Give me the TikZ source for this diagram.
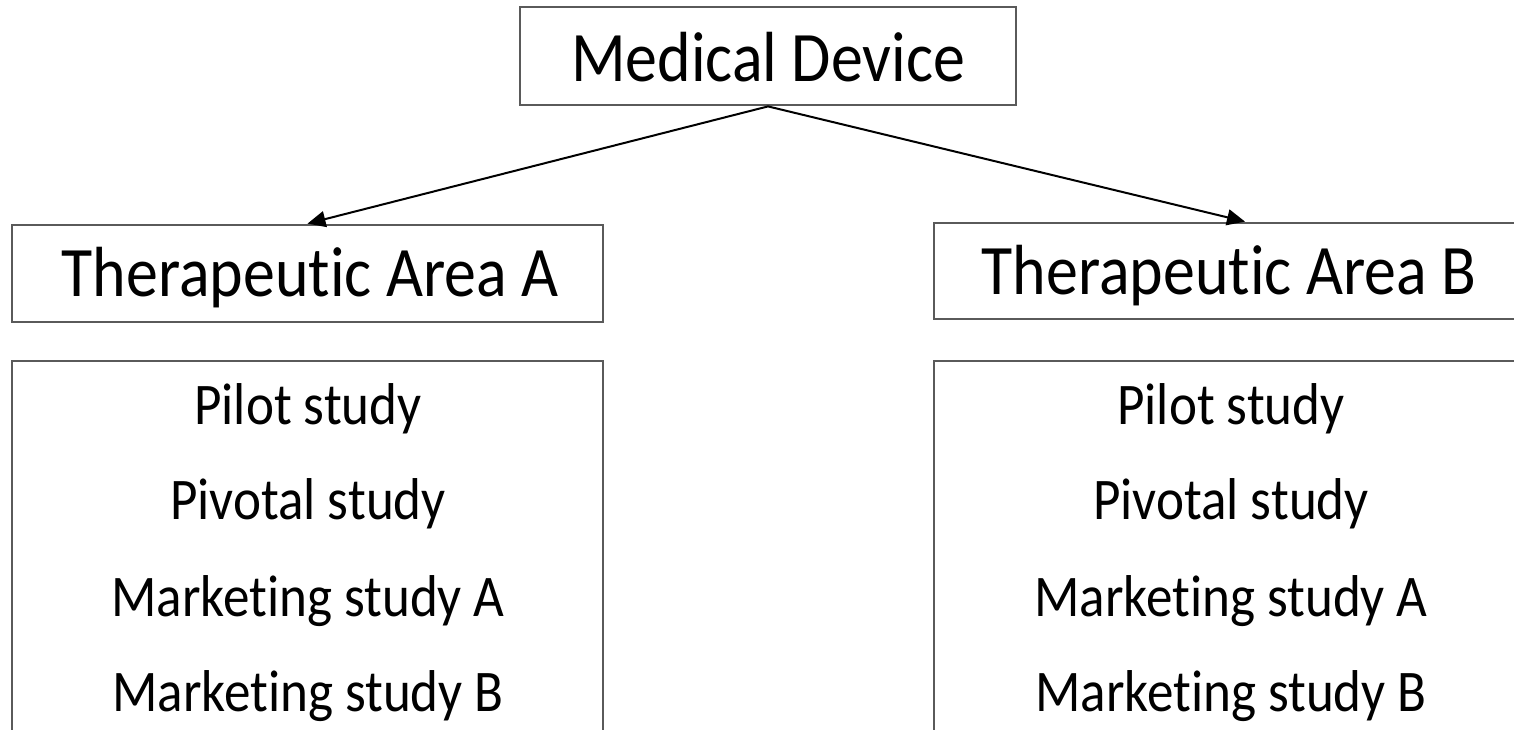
\documentclass[tikz,border=0pt]{standalone}
\usepackage{fontspec}
\setmainfont[FakeStretch=0.9,Ligatures=NoCommon]{Carlito}
\usetikzlibrary{arrows.meta}
\definecolor{boxgray}{HTML}{5A5A5A}
\begin{document}
\begin{tikzpicture}[x=1pt,y=-1pt,
  frame/.style={draw=boxgray,line width=2.8pt,fill=white,inner sep=0pt},
  headtext/.style={anchor=base,inner sep=0pt,font=\fontsize{71}{71}\selectfont},
  itemtext/.style={anchor=base,inner sep=0pt,font=\fontsize{59}{59}\selectfont},
  conn/.style={draw=black,line width=2pt,-{Triangle[length=18pt,width=16pt]}}]
  \useasboundingbox (0,0) rectangle (1514,730);
  \clip (0,0) rectangle (1514,730);
  \fill[white] (0,0) rectangle (1514,730);

  % boxes
  \node[frame,minimum width=496pt,minimum height=98pt] (md) at (768,56) {};
  \node[frame,minimum width=591pt,minimum height=97pt] (taA) at (307.5,273.5) {};
  \node[frame,minimum width=622pt,minimum height=96pt] (taB) at (1245,271) {};
  \node[frame,minimum width=591pt,minimum height=400pt] (listA) at (307.5,561) {};
  \node[frame,minimum width=622pt,minimum height=400pt] (listB) at (1245,561) {};

  % headings
  \node[headtext] (mdT) at (768,82) {Medical Device};
  \node[headtext] (taAT) at (310,296) {Therapeutic Area A};
  \node[headtext] (taBT) at (1229,294) {Therapeutic Area B};

  % study lists
  \node[itemtext] (a1) at (308,424) {Pilot study};
  \node[itemtext] (a2) at (308,519) {Pivotal study};
  \node[itemtext] (a3) at (308,616) {Marketing study A};
  \node[itemtext] (a4) at (308,711) {Marketing study B};
  \node[itemtext] (b1) at (1231,424) {Pilot study};
  \node[itemtext] (b2) at (1231,519) {Pivotal study};
  \node[itemtext] (b3) at (1231,616) {Marketing study A};
  \node[itemtext] (b4) at (1231,711) {Marketing study B};

  % connectors
  \draw[conn] (md.south) -- (taA.north);
  \draw[conn] (md.south) -- (taB.north);
\end{tikzpicture}
\end{document}
